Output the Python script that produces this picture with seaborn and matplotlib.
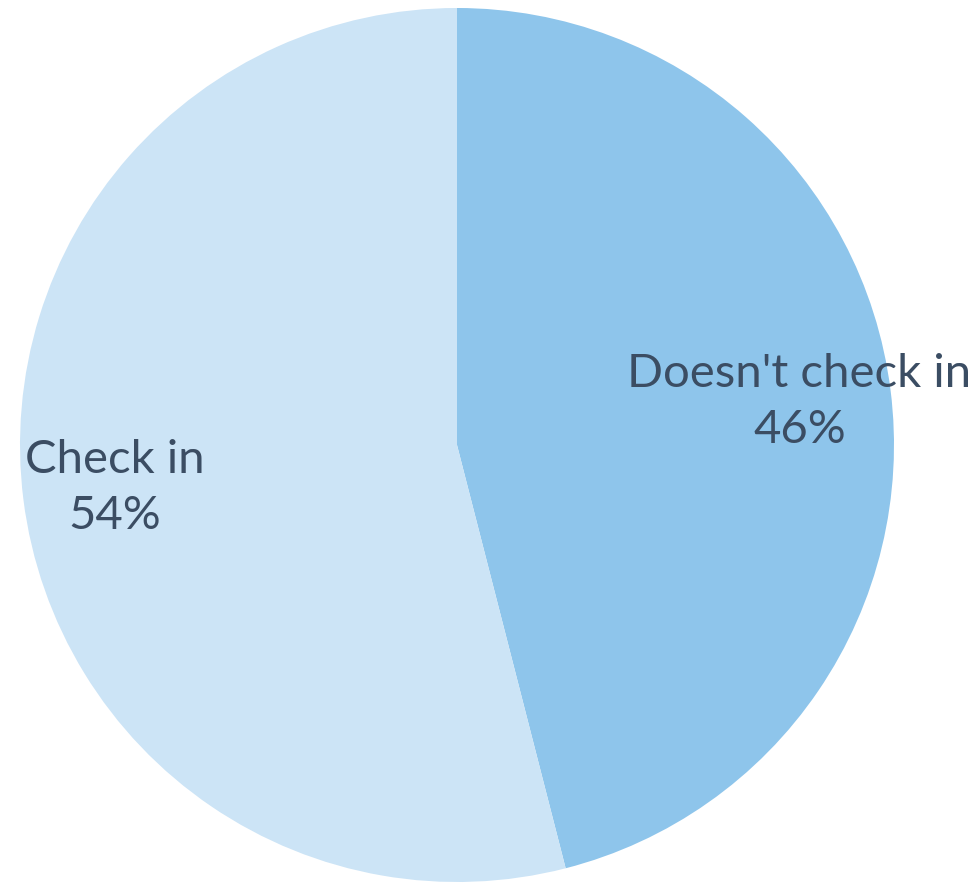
import matplotlib
matplotlib.use("Agg")
import matplotlib.pyplot as plt
import seaborn as sns

categories = ["Doesn't check in", "Check in"]
values = [46, 54]
colors = ["#8EC5EB", "#CCE4F6"]

sns.set_theme(style="white")
plt.rcParams['font.family'] = ['Lato', 'DejaVu Sans']

fig = plt.figure(figsize=(9.79, 8.83), dpi=100)
ax = fig.add_axes([0, 0, 1, 1])

labels = [f"{c}\n{v}%" for c, v in zip(categories, values)]
wedges, texts = ax.pie(values, labels=labels, colors=colors, startangle=90,
                       counterclock=False, labeldistance=0.79,
                       wedgeprops=dict(linewidth=0),
                       textprops=dict(ha='center', va='center', fontsize=34,
                                      color='#3B4D63', fontweight='normal',
                                      linespacing=1.42, multialignment='center'))

ax.set_aspect('auto')
ax.set_xlim(-457/437, (979-457)/437)
ax.set_ylim(-(883-445)/437, 445/437)
ax.axis('off')

fig.savefig("out.png", dpi=100)
